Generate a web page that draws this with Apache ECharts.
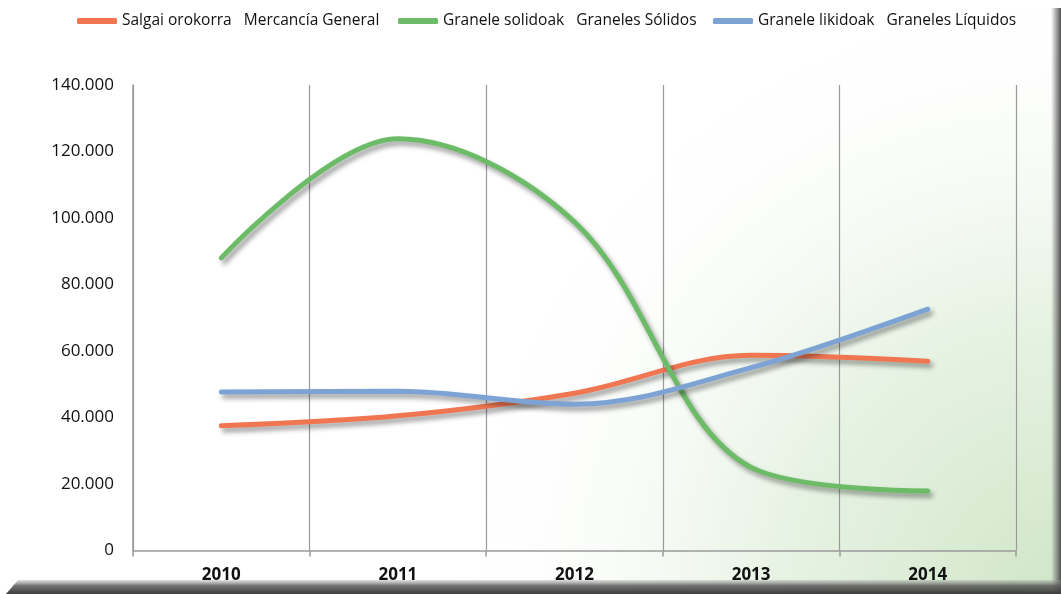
<!DOCTYPE html>
<html>
<head>
<meta charset="utf-8">
<script src="https://cdn.jsdelivr.net/npm/echarts@6/dist/echarts.min.js"></script>
<style>
html,body{margin:0;padding:0;background:#fff;}
#chart{width:1061px;height:594px;}
</style>
</head>
<body>
<div id="chart"></div>
<script>
var categories = ['2010', '2011', '2012', '2013', '2014'];
var seriesNames = ['Salgai orokorra   Mercancía General', 'Granele solidoak   Graneles Sólidos', 'Granele likidoak   Graneles Líquidos'];
var generalCargo = [37500, 40500, 47300, 58700, 56900];
var solidBulk = [88000, 123800, 98800, 25000, 17900];
var liquidBulk = [47700, 47900, 44000, 55000, 72600];
var yTicks = { min: 0, max: 140000, interval: 20000 };

var colors = ['#F07652', '#6CBB66', '#7CA3D4'];
var dataSets = [generalCargo, solidBulk, liquidBulk];
var legendLefts = [77, 398, 713];
var font = 'Open Sans';

function fmt(v) {
  return String(v).replace(/\B(?=(\d{3})+(?!\d))/g, '.');
}

var chart = echarts.init(document.getElementById('chart'));
var option = {
  animation: false,
  backgroundColor: '#ffffff',
  graphic: [
    {
      type: 'rect', z: -10, silent: true,
      shape: { x: 0, y: 0, width: 1061, height: 594 },
      style: {
        fill: new echarts.graphic.RadialGradient(1, 1, 1.05, [
          { offset: 0, color: 'rgba(208,230,200,1)' },
          { offset: 0.45, color: 'rgba(228,241,224,0.9)' },
          { offset: 1, color: 'rgba(255,255,255,0)' }
        ])
      }
    },
    {
      type: 'rect', z: 100, silent: true,
      shape: { x: 1051, y: 8, width: 10, height: 586 },
      style: {
        fill: new echarts.graphic.LinearGradient(0, 0, 1, 0, [
          { offset: 0, color: 'rgba(120,120,120,0)' },
          { offset: 0.5, color: 'rgba(110,110,110,0.6)' },
          { offset: 1, color: 'rgba(70,70,70,0.95)' }
        ])
      }
    },
    {
      type: 'polygon', z: 101, silent: true,
      shape: { points: [[18, 580], [1061, 580], [1061, 594], [6, 594]] },
      style: {
        fill: new echarts.graphic.LinearGradient(0, 0, 0, 1, [
          { offset: 0, color: 'rgba(150,150,150,0.3)' },
          { offset: 0.4, color: 'rgba(90,90,90,0.85)' },
          { offset: 1, color: 'rgba(60,60,60,1)' }
        ])
      }
    }
  ],
  legend: seriesNames.map(function (n, i) {
    return {
      data: [n],
      left: legendLefts[i],
      top: 13,
      padding: 0,
      itemWidth: 40,
      itemHeight: 6,
      icon: 'roundRect',
      textStyle: { fontFamily: font, fontSize: 15.5, color: '#111' }
    };
  }),
  grid: { left: 133, right: 45, top: 85, bottom: 43.5, containLabel: false },
  xAxis: {
    type: 'category',
    data: categories,
    boundaryGap: true,
    axisLine: { show: true, lineStyle: { color: '#9a9a9a', width: 1.5 } },
    axisTick: { show: true, length: 6, lineStyle: { color: '#9a9a9a', width: 1.5 } },
    splitLine: { show: true, lineStyle: { color: '#9a9a9a', width: 1.2 } },
    axisLabel: { fontFamily: font, fontSize: 17, fontWeight: 'bold', color: '#111', margin: 16 }
  },
  yAxis: {
    type: 'value',
    min: yTicks.min, max: yTicks.max, interval: yTicks.interval,
    axisLine: { show: true, lineStyle: { color: '#9a9a9a', width: 1.5 } },
    axisTick: { show: false },
    splitLine: { show: false },
    axisLabel: { fontFamily: font, fontSize: 17, color: '#111', margin: 19, formatter: fmt }
  },
  series: seriesNames.map(function (n, i) {
    return {
      name: n,
      type: 'line',
      data: dataSets[i],
      smooth: 0.35,
      symbol: 'none',
      color: colors[i],
      lineStyle: {
        width: 5, color: colors[i], cap: 'round',
        shadowColor: 'rgba(0,0,0,0.4)', shadowBlur: 5, shadowOffsetX: 3, shadowOffsetY: 4
      }
    };
  })
};
chart.setOption(option);
</script>
</body>
</html>
